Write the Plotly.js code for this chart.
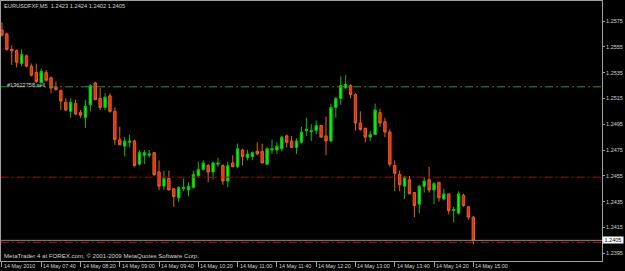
<!DOCTYPE html>
<html>
<head>
<meta charset="utf-8">
<script src="https://cdn.plot.ly/plotly-3.0.1.min.js"></script>
<style>
html,body{margin:0;padding:0;background:#000;}
#chart{width:625px;height:271px;}
</style>
</head>
<body>
<div id="chart"></div>
<script>
// ---- data (EURUSD M5, 14 May 2010, 07:00 - 15:00) ----
var symbol = "EURUSDFXF,M5";
var startTime = "07:00";
var barMinutes = 5;

var open = [1.2568,1.2565,1.2553,1.2552,1.2542,1.2548,1.2540,1.2535,1.2527,1.2535,
1.2531,1.2524,1.2521,1.2512,1.2505,1.2511,1.2504,1.2500,1.2510,1.2527,
1.2515,1.2508,1.2517,1.2505,1.2483,1.2478,1.2481,1.2482,1.2464,1.2471,
1.2471,1.2473,1.2458,1.2447,1.2453,1.2445,1.2438,1.2445,1.2444,1.2446,
1.2455,1.2460,1.2463,1.2458,1.2464,1.2463,1.2451,1.2465,1.2462,1.2475,
1.2469,1.2470,1.2474,1.2474,1.2464,1.2475,1.2475,1.2476,1.2486,1.2482,
1.2477,1.2481,1.2490,1.2489,1.2490,1.2494,1.2486,1.2482,1.2508,1.2515,
1.2523,1.2525,1.2518,1.2496,1.2492,1.2485,1.2487,1.2504,1.2497,1.2489,
1.2463,1.2456,1.2447,1.2452,1.2442,1.2433,1.2447,1.2452,1.2444,1.2450,
1.2437,1.2441,1.2428,1.2426,1.2440,1.2431,1.2423];

var high = [1.2574,1.2566,1.2556,1.2553,1.2553,1.2549,1.2542,1.2542,1.2538,1.2537,
1.2532,1.2528,1.2522,1.2515,1.2515,1.2514,1.2506,1.2514,1.2526,1.2528,
1.2523,1.2519,1.2519,1.2508,1.2493,1.2485,1.2487,1.2483,1.2475,1.2475,
1.2475,1.2473,1.2467,1.2459,1.2459,1.2445,1.2447,1.2453,1.2450,1.2459,
1.2466,1.2467,1.2464,1.2466,1.2469,1.2464,1.2466,1.2471,1.2480,1.2476,
1.2475,1.2474,1.2481,1.2480,1.2477,1.2483,1.2481,1.2486,1.2487,1.2486,
1.2484,1.2493,1.2500,1.2495,1.2498,1.2494,1.2501,1.2511,1.2516,1.2532,
1.2533,1.2526,1.2519,1.2505,1.2492,1.2490,1.2511,1.2507,1.2500,1.2491,
1.2467,1.2459,1.2455,1.2455,1.2442,1.2448,1.2454,1.2462,1.2450,1.2450,
1.2445,1.2441,1.2431,1.2443,1.2441,1.2431,1.2424];

var low = [1.2563,1.2552,1.2541,1.2539,1.2540,1.2539,1.2532,1.2527,1.2527,1.2528,
1.2519,1.2521,1.2506,1.2505,1.2500,1.2502,1.2500,1.2492,1.2505,1.2514,
1.2506,1.2506,1.2504,1.2479,1.2479,1.2470,1.2477,1.2462,1.2463,1.2464,
1.2469,1.2455,1.2444,1.2444,1.2444,1.2431,1.2435,1.2443,1.2439,1.2445,
1.2454,1.2459,1.2450,1.2452,1.2462,1.2448,1.2446,1.2462,1.2461,1.2463,
1.2467,1.2467,1.2471,1.2465,1.2463,1.2472,1.2472,1.2474,1.2477,1.2477,
1.2472,1.2480,1.2486,1.2482,1.2487,1.2485,1.2471,1.2481,1.2500,1.2510,
1.2523,1.2515,1.2490,1.2490,1.2481,1.2482,1.2487,1.2493,1.2485,1.2462,
1.2443,1.2443,1.2437,1.2441,1.2423,1.2426,1.2442,1.2442,1.2433,1.2435,
1.2436,1.2425,1.2419,1.2425,1.2431,1.2421,1.2402];

var close = [1.2564,1.2553,1.2552,1.2543,1.2549,1.2540,1.2533,1.2528,1.2536,1.2529,
1.2523,1.2522,1.2513,1.2506,1.2512,1.2503,1.2502,1.2509,1.2525,1.2514,
1.2508,1.2516,1.2505,1.2483,1.2479,1.2482,1.2482,1.2463,1.2473,1.2473,
1.2472,1.2456,1.2447,1.2453,1.2444,1.2439,1.2446,1.2446,1.2447,1.2456,
1.2460,1.2465,1.2458,1.2465,1.2465,1.2451,1.2463,1.2462,1.2476,1.2470,
1.2472,1.2473,1.2472,1.2465,1.2476,1.2476,1.2478,1.2485,1.2481,1.2477,
1.2482,1.2489,1.2491,1.2490,1.2494,1.2485,1.2482,1.2508,1.2515,1.2525,
1.2526,1.2518,1.2496,1.2491,1.2485,1.2487,1.2506,1.2496,1.2489,1.2464,
1.2457,1.2448,1.2454,1.2441,1.2432,1.2447,1.2451,1.2444,1.2449,1.2438,
1.2441,1.2428,1.2429,1.2441,1.2432,1.2423,1.2405];

var xTickTimes  = ["07:00","07:40","08:20","09:00","09:40","10:20","11:00","11:40","12:20","13:00","13:40","14:20","15:00"];
var xTickLabels = ["14 May 2010","14 May 07:40","14 May 08:20","14 May 09:00","14 May 09:40","14 May 10:20","14 May 11:00","14 May 11:40","14 May 12:20","14 May 13:00","14 May 13:40","14 May 14:20","14 May 15:00"];
var yTickValues = [1.2395,1.2415,1.2435,1.2455,1.2475,1.2495,1.2515,1.2535,1.2555,1.2575];

var orderLevel = [1.2524];          // "#13622758 sell"
var orderLabel = ["#13622758 sell"];
var stopLevels = [1.2454, 1.24035];
var bidPrice = [close[close.length-1]];
var copyright = "MetaTrader 4 at FOREX.com, \u00a9 2001-2009 MetaQuotes Software Corp.";

// ---- build category times ----
var times = [];
(function(){
  var p = startTime.split(":"); var m = (+p[0])*60 + (+p[1]);
  for (var i=0;i<open.length;i++){
    var t = m + i*barMinutes;
    var hh = Math.floor(t/60), mm = t%60;
    times.push((hh<10?"0":"")+hh+":"+(mm<10?"0":"")+mm);
  }
})();

var FONT = "'Liberation Sans', Arial, sans-serif";
var TXT = "#d4d4d4";
var n = open.length;

var trace = {
  type: "candlestick",
  x: times, open: open, high: high, low: low, close: close,
  increasing: {line: {color: "#12b812", width: 1}, fillcolor: "#00ff00"},
  decreasing: {line: {color: "#e8601a", width: 1}, fillcolor: "#e42a1c"},
  whiskerwidth: 0,
  hoverinfo: "skip",
  showlegend: false
};

var title = symbol + "\u00a0\u00a0" + open[n-1].toFixed(4) + "\u00a0" + high[n-1].toFixed(4) + "\u00a0" + low[n-1].toFixed(4) + "\u00a0" + close[n-1].toFixed(4);

var shapes = [];
shapes.push({type:"line", xref:"paper", x0:0, x1:1, yref:"y", y0:orderLevel[0], y1:orderLevel[0],
  line:{color:"#1f9a1f", width:1, dash:"8px,3px,2px,3px"}});
shapes.push({type:"line", xref:"paper", x0:0, x1:1, yref:"y", y0:stopLevels[0], y1:stopLevels[0],
  line:{color:"#9a0a0a", width:1, dash:"8px,3px,2px,3px"}});
shapes.push({type:"line", xref:"paper", x0:0, x1:1, yref:"y", y0:bidPrice[0], y1:bidPrice[0],
  line:{color:"#8a8a8a", width:1}});
shapes.push({type:"line", xref:"paper", x0:0, x1:1, yref:"y", y0:stopLevels[1], y1:stopLevels[1],
  line:{color:"#c81010", width:1, dash:"8px,3px,2px,3px"}});

var annotations = [
  {xref:"paper", x:0.006, xanchor:"left", yref:"y", y:orderLevel[0], yanchor:"bottom", yshift:-3,
   text:orderLabel[0], showarrow:false, font:{family:FONT, size:5.6, color:TXT}},
  {xref:"paper", x:0.002, xanchor:"left", yref:"paper", y:0.021, yanchor:"middle",
   text:copyright, showarrow:false, font:{family:FONT, size:6.1, color:TXT}},
  {xref:"paper", x:1, xanchor:"left", xshift:0, yref:"y", y:bidPrice[0], yanchor:"middle",
   text:"\u00a0" + bidPrice[0].toFixed(4) + "\u00a0", showarrow:false, bgcolor:"#ffffff", borderpad:0,
   font:{family:FONT, size:5.5, color:"#000000"}}
];
// x-axis labels: MetaTrader draws them to the right of each tick
for (var i=0;i<xTickTimes.length;i++){
  annotations.push({xref:"x", x:xTickTimes[i], xanchor:"left", xshift:0,
    yref:"paper", y:-0.019, yanchor:"middle", text:xTickLabels[i], showarrow:false,
    font:{family:FONT, size:5.4, color:TXT}});
}

var layout = {
  width: 625, height: 271,
  paper_bgcolor: "#000000", plot_bgcolor: "#000000",
  margin: {l:1, r:23, t:1, b:10, pad:0},
  showlegend: false,
  title: {text: title, xref:"container", x:0.0064, xanchor:"left", yref:"container", y:0.979, yanchor:"middle",
          font:{family:FONT, size:5.7, color:TXT}},
  xaxis: {
    type: "category", range: [-0.191, 122.21], autorange: false,
    tickmode: "array", tickvals: xTickTimes, ticktext: xTickLabels, showticklabels: false,
    ticks: "outside", ticklen: 5, tickcolor: "#a0a0a0", tickwidth: 1,
    showgrid: false, zeroline: false, showline: true, mirror: true, linecolor: "#a0a0a0", linewidth: 1,
    rangeslider: {visible: false}, fixedrange: true
  },
  yaxis: {
    side: "right", range: [1.23890, 1.25905], autorange: false,
    tickmode: "array", tickvals: yTickValues, tickformat: ".4f",
    ticks: "outside", ticklen: 2, tickcolor: "#a0a0a0",
    tickfont: {family: FONT, size: 5.5, color: TXT},
    showgrid: false, zeroline: false, showline: true, mirror: true, linecolor: "#a0a0a0", linewidth: 1,
    fixedrange: true
  },
  shapes: shapes,
  annotations: annotations
};

Plotly.newPlot("chart", [trace], layout, {displayModeBar: false, staticPlot: true});
</script>
</body>
</html>
